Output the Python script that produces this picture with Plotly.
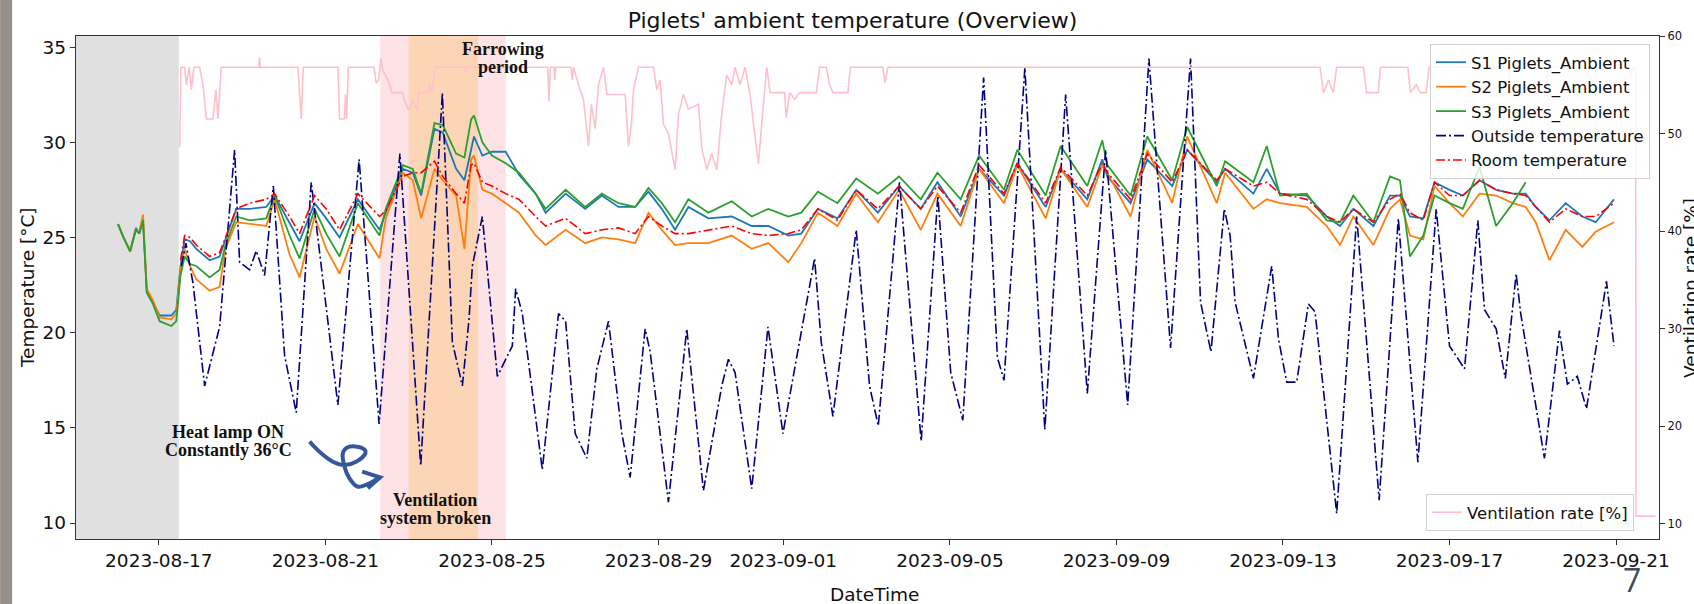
import pandas as pd
import plotly.graph_objects as go

# ---------------- data (x = days since 2023-08-17 00:00) ----------------
START = pd.Timestamp("2023-08-17")

piglet_day = [-0.98, -0.85, -0.69, -0.55, -0.47, -0.38, -0.29, -0.14, 0.02, 0.30, 0.42,
              0.52, 0.62, 0.75, 0.90, 1.22, 1.46, 1.60, 1.86, 2.18, 2.58, 2.78, 3.14,
              3.38, 3.74, 4.02, 4.34, 4.78, 5.30, 5.45, 5.86, 6.10, 6.30, 6.62, 6.82,
              7.14, 7.34, 7.50, 7.57, 7.77, 8.00, 8.33, 8.65, 9.05, 9.29, 9.77, 10.24,
              10.64, 11.04, 11.44, 11.76, 12.08, 12.40, 12.72, 13.20, 13.76, 14.24, 14.64,
              15.12, 15.43, 15.83, 16.30, 16.75, 17.27, 17.78, 18.30, 18.70, 19.26, 19.70,
              20.30, 20.62, 21.30, 21.66, 22.30, 22.66, 22.78, 23.34, 23.74, 24.34, 24.70,
              25.41, 25.61, 26.29, 26.61, 26.93, 27.57, 28.05, 28.37, 28.69, 29.17, 29.57,
              29.81, 30.05, 30.37, 30.64, 31.00, 31.32, 31.72, 32.12, 32.52, 32.83, 33.07,
              33.40, 33.79, 34.19, 34.51, 34.95]

s1_temp = [25.7, 25.0, 24.3, 25.5, 25.2, 25.9, 22.2, 21.6, 20.9, 20.9, 21.2,
           23.5, 24.9, 24.8, 24.4, 23.8, 24.0, 24.9, 26.5, 26.5, 26.6, 27.2, 25.8,
           24.8, 26.8, 26.0, 25.0, 27.0, 25.4, 26.3, 28.6, 28.4, 27.2, 30.7, 30.5,
           28.6, 28.0, 29.6, 30.3, 29.3, 29.5, 29.5, 28.3, 27.3, 26.3, 27.3, 26.5,
           27.2, 26.6, 26.6, 27.4, 26.5, 25.4, 26.6, 26.0, 26.1, 25.6, 25.6,
           25.1, 25.2, 26.5, 26.0, 27.5, 26.3, 27.7, 26.5, 27.9, 26.1, 28.6,
           27.2, 28.9, 26.6, 28.6, 27.0, 29.1, 28.2, 26.8, 29.1, 27.7, 29.6,
           27.9, 28.6, 27.3, 28.6, 27.3, 27.2, 26.1, 25.6, 26.5, 25.6, 27.2,
           27.2, 26.1, 26.0, 27.9, 27.5, 27.2, 28.0, 27.5, 27.3, 27.3, 26.6,
           25.9, 26.8, 26.1, 25.8, 27.0]

s2_temp = [25.7, 25.0, 24.3, 25.4, 25.3, 26.2, 22.3, 21.7, 20.8, 20.7, 21.0,
           23.3, 24.4, 23.5, 22.8, 22.2, 22.4, 24.4, 25.8, 25.7, 25.6, 27.0, 24.1,
           22.9, 26.1, 24.4, 23.1, 25.7, 23.9, 26.0, 28.4, 28.0, 26.0, 28.6, 28.0,
           27.2, 24.4, 29.1, 29.3, 27.5, 27.3, 26.8, 26.3, 25.1, 24.6, 25.4, 24.7,
           25.0, 24.9, 24.7, 26.3, 25.4, 24.6, 24.7, 24.7, 25.1, 24.4, 24.7,
           23.7, 24.7, 26.3, 25.6, 27.3, 25.8, 27.5, 25.4, 27.3, 25.6, 28.6,
           26.8, 28.8, 26.0, 28.6, 26.6, 28.8, 28.4, 26.1, 29.6, 26.8, 30.3,
           26.8, 28.4, 26.5, 27.0, 26.8, 26.6, 25.6, 24.6, 26.1, 24.6, 26.5,
           27.0, 25.1, 24.9, 27.7, 26.8, 26.1, 27.3, 27.2, 26.8, 26.6, 25.8,
           23.8, 25.4, 24.5, 25.3, 25.8]

s3_temp = [25.7, 25.0, 24.25, 25.4, 25.2, 25.9, 22.1, 21.5, 20.6, 20.35, 20.6,
           23.0, 24.0, 23.6, 23.5, 22.9, 23.3, 24.6, 26.1, 25.9, 26.0, 27.2, 25.1,
           23.9, 26.5, 25.2, 24.0, 26.8, 25.1, 26.5, 28.8, 28.6, 27.3, 31.0, 30.9,
           29.4, 29.2, 31.2, 31.4, 30.0, 29.3, 28.9, 28.4, 27.3, 26.5, 27.5, 26.6,
           27.3, 26.8, 26.6, 27.6, 26.8, 25.8, 27.0, 26.3, 26.9, 26.1, 26.5,
           26.1, 26.3, 27.4, 26.8, 28.1, 27.3, 28.2, 27.0, 28.4, 27.0, 29.3,
           27.5, 29.6, 27.2, 29.8, 27.7, 30.1, 28.8, 27.2, 30.3, 28.0, 30.8,
           27.7, 29.0, 27.9, 29.8, 27.2, 27.3, 25.9, 25.8, 27.2, 25.8, 28.2,
           28.0, 24.0, 25.1, 27.2, 26.8, 26.5, 28.7, 25.6, 26.8, 27.9, None,
           None, None, None, None, None]

room_temp = [None, None, None, None, None, None, None, None, None, None, None,
             23.8, 25.1, 25.0, 24.6, 24.0, 24.2, 25.0, 26.5, 26.8, 27.0, 27.3, 26.1,
             25.2, 27.2, 26.5, 25.4, 27.3, 26.1, 26.4, 28.2, 28.4, 28.4, 29.0, 28.2,
             27.3, 26.8, 28.8, 28.9, 27.9, 27.7, 27.3, 27.0, 26.1, 25.6, 26.0, 25.2,
             25.4, 25.5, 25.2, 26.1, 25.6, 25.2, 25.2, 25.4, 25.6, 25.2, 25.1,
             25.2, 25.4, 26.5, 25.9, 27.5, 26.5, 27.7, 26.5, 27.7, 26.3, 28.8,
             27.3, 28.9, 26.8, 28.7, 27.2, 28.9, 28.4, 27.0, 29.4, 27.9, 29.6,
             28.0, 28.6, 27.7, 27.9, 27.3, 27.0, 26.1, 25.8, 26.5, 25.8, 27.0,
             27.3, 26.3, 25.9, 27.9, 27.2, 27.2, 28.0, 27.5, 27.3, 27.2, 26.6,
             25.8, 26.5, 26.1, 26.1, 26.8]

outside_day = [0.54, 0.65, 0.82, 1.10, 1.46, 1.82, 1.94, 2.18, 2.34, 2.54, 2.75, 3.02,
               3.30, 3.66, 4.30, 4.81, 5.29, 5.79, 6.29, 6.81, 7.05, 7.29, 7.45, 7.53,
               7.77, 8.13, 8.49, 8.57, 8.73, 9.21, 9.60, 9.77, 10.00, 10.28, 10.52, 10.80,
               11.12, 11.32, 11.68, 11.80, 12.24, 12.68, 13.08, 13.52, 13.68, 13.84, 14.24,
               14.63, 14.99, 15.75, 15.91, 16.19, 16.75, 17.07, 17.28, 17.79, 18.31, 18.71,
               19.02, 19.31, 19.81, 20.14, 20.30, 20.80, 21.28, 21.78, 22.30, 22.74, 23.27,
               23.78, 24.30, 24.78, 25.02, 25.27, 25.59, 25.73, 25.85, 26.29, 26.73, 26.89,
               27.09, 27.33, 27.61, 27.77, 28.29, 28.77, 29.31, 29.77, 30.24, 30.68, 31.00,
               31.36, 31.68, 31.84, 32.12, 32.34, 32.60, 32.71, 33.28, 33.64, 33.83, 34.07,
               34.29, 34.77, 34.95]
outside_temp = [23.5, 24.7, 22.6, 17.2, 20.3, 29.6, 23.7, 23.3, 24.3, 23.0, 27.7, 18.8,
                15.8, 27.9, 16.2, 29.1, 15.2, 29.4, 13.0, 32.6, 19.5, 17.2, 20.7, 23.5,
                26.1, 17.7, 19.3, 22.3, 21.0, 12.8, 21.0, 20.6, 14.7, 13.4, 18.1, 20.6,
                14.7, 12.4, 20.2, 19.0, 11.1, 20.2, 11.7, 17.2, 18.6, 17.9, 11.8,
                20.3, 14.7, 23.9, 19.5, 15.6, 25.4, 17.2, 15.1, 27.9, 14.3, 27.2,
                17.9, 15.4, 33.4, 18.7, 17.5, 33.9, 14.9, 32.5, 16.8, 29.6, 16.2,
                34.4, 19.2, 34.4, 21.6, 19.0, 26.5, 25.1, 21.6, 17.6, 23.5, 19.7,
                17.4, 17.4, 21.5, 21.1, 10.5, 26.1, 11.2, 26.0, 13.2, 26.5, 19.3,
                18.1, 25.9, 21.2, 20.2, 17.6, 23.1, 21.0, 13.4, 20.1, 17.3, 17.7,
                16.0, 22.7, 19.3]

vent_day = [0.50, 0.53, 0.62, 0.66, 0.73, 0.78, 0.84, 0.98, 1.06, 1.14, 1.30, 1.37, 1.42,
            1.50, 2.40, 2.42, 2.44, 3.34, 3.42, 3.47, 4.30, 4.34, 4.46, 4.48, 4.51, 4.55,
            5.17, 5.22, 5.28, 5.33, 5.38, 5.50, 5.60, 5.85, 5.90, 6.00, 6.10, 6.20, 6.25,
            6.45, 6.50, 6.55, 6.65, 7.35, 7.37, 7.39, 9.34, 9.37, 9.40, 9.49, 9.51, 9.53,
            9.90, 9.93, 9.96, 10.08, 10.20, 10.32, 10.39, 10.48, 10.56, 10.68, 10.76,
            11.20, 11.28, 11.35, 11.40, 11.52, 11.88, 11.96, 12.04, 12.12, 12.24, 12.40,
            12.48, 12.60, 12.72, 12.96, 13.04, 13.16, 13.28, 13.40, 13.52, 13.64, 13.76,
            13.84, 13.96, 14.08, 14.20, 14.32, 14.40, 14.48, 14.60, 14.68, 15.03, 15.07,
            15.15, 15.19, 15.27, 15.39, 15.79, 15.87, 16.03, 16.11, 16.19, 16.55, 16.61,
            17.39, 17.44, 17.51, 27.89, 27.97, 28.09, 28.21, 28.29, 28.93, 29.01, 29.29,
            29.34, 30.00, 30.06, 30.20, 30.30, 30.44, 30.51, 32.43, 32.47, 32.91, 32.99,
            33.07, 33.31, 33.35, 34.27, 34.31, 34.35, 35.31, 35.35, 35.41, 35.47, 35.48,
            35.95]
vent_rate = [48.6, 56.8, 56.8, 55.0, 56.8, 54.5, 56.8, 56.8, 55.0, 51.5, 51.5, 54.5, 51.5,
             56.8, 56.8, 57.8, 56.8, 56.8, 51.5, 56.8, 56.8, 51.5, 51.5, 54.0, 51.5, 56.8,
             56.8, 55.2, 55.5, 57.7, 56.5, 55.5, 54.2, 54.2, 53.4, 52.4, 53.4, 52.4, 54.2,
             54.2, 55.0, 54.2, 56.8, 56.8, 56.2, 56.8, 56.8, 53.3, 56.8, 56.8, 55.5, 56.8,
             56.8, 55.5, 56.8, 55.0, 53.5, 48.7, 53.0, 50.5, 55.0, 56.8, 54.0,
             54.0, 48.7, 51.0, 54.5, 56.8, 56.8, 54.5, 55.5, 51.0, 50.0, 46.3,
             52.0, 54.0, 52.5, 53.0, 48.5, 46.3, 48.0, 46.3, 52.0, 56.0, 55.0,
             56.8, 55.0, 56.8, 54.0, 50.0, 46.9, 51.0, 56.8, 54.2, 54.2, 51.6,
             54.2, 54.0, 53.5, 54.2, 54.2, 56.8, 56.8, 55.0, 54.2, 54.2, 56.8,
             56.8, 55.2, 56.8, 56.8, 54.2, 55.5, 54.2, 56.8, 56.8, 54.2, 54.2,
             56.8, 56.8, 54.2, 55.0, 54.2, 54.2, 56.8, 56.8, 54.2, 54.2, 55.5,
             54.2, 54.2, 56.8, 56.8, 55.8, 56.8, 56.8, 55.8, 56.8, 56.8, 10.8,
             10.8]

x_ticks = ["2023-08-17", "2023-08-21", "2023-08-25", "2023-08-29", "2023-09-01",
           "2023-09-05", "2023-09-09", "2023-09-13", "2023-09-17", "2023-09-21"]

# event periods
heat_lamp_end = "2023-08-17 11:30"
vent_broken = ("2023-08-22 07:40", "2023-08-25 08:00")
farrowing = ("2023-08-23 00:00", "2023-08-24 16:00")


def to_time(days):
    return [START + pd.Timedelta(days=d) for d in days]


# ---------------- layout geometry (pixels) ----------------
W, H = 1694, 604
L, R, T, B = 76, 1662, 36, 539


def px(x):
    return (x - L) / (R - L)


def py(y):
    return (B - y) / (B - T)


fig = go.Figure()

line_specs = [
    ("S1 Piglets_Ambient", s1_temp, "#1f77b4"),
    ("S2 Piglets_Ambient", s2_temp, "#ff7f0e"),
    ("S3 Piglets_Ambient", s3_temp, "#2ca02c"),
]
for name, vals, col in line_specs:
    fig.add_trace(go.Scatter(x=to_time(piglet_day), y=vals, name=name, mode="lines",
                             line=dict(color=col, width=1.8), connectgaps=False))

fig.add_trace(go.Scatter(x=to_time(outside_day), y=outside_temp, name="Outside temperature",
                         mode="lines",
                         line=dict(color="#000080", width=1.6, dash="10px,3px,2px,3px")))
fig.add_trace(go.Scatter(x=to_time(piglet_day), y=room_temp, name="Room temperature",
                         mode="lines",
                         line=dict(color="#ff0000", width=1.6, dash="9px,3px,2px,3px")))
fig.add_trace(go.Scatter(x=to_time(vent_day), y=vent_rate, name="Ventilation rate [%]",
                         mode="lines", yaxis="y2", legend="legend2",
                         line=dict(color="#ffc0cb", width=1.6)))

shapes = [
    dict(type="rect", xref="x", yref="paper", x0="2023-08-14", x1=heat_lamp_end,
         y0=0, y1=1, fillcolor="#e0e0e0", line_width=0, layer="below"),
    dict(type="rect", xref="x", yref="paper", x0=vent_broken[0], x1=vent_broken[1],
         y0=0, y1=1, fillcolor="#fde3e6", line_width=0, layer="below"),
    dict(type="rect", xref="x", yref="paper", x0=farrowing[0], x1=farrowing[1],
         y0=0, y1=1, fillcolor="#fcd5b6", line_width=0, layer="below"),
    # slide edge strip
    dict(type="rect", xref="paper", yref="paper", x0=px(0), x1=px(12), y0=py(H), y1=py(0),
         fillcolor="#968f89", line_width=0, layer="above"),
]


def smooth_path(pts):
    P = [(px(x), py(y)) for x, y in pts]
    d = f"M{P[0][0]:.5f},{P[0][1]:.5f}"
    for i in range(len(P) - 1):
        p0 = P[i - 1] if i > 0 else P[i]
        p1, p2 = P[i], P[i + 1]
        p3 = P[i + 2] if i + 2 < len(P) else P[i + 1]
        c1 = (p1[0] + (p2[0] - p0[0]) / 6, p1[1] + (p2[1] - p0[1]) / 6)
        c2 = (p2[0] - (p3[0] - p1[0]) / 6, p2[1] - (p3[1] - p1[1]) / 6)
        d += (f" C{c1[0]:.5f},{c1[1]:.5f} {c2[0]:.5f},{c2[1]:.5f}"
              f" {p2[0]:.5f},{p2[1]:.5f}")
    return d


arrow_pts = [(310, 441.7), (321.7, 453.3), (333.3, 461.7), (345, 465), (356.7, 461.7),
             (366, 453.3), (361.7, 447.7), (350, 446.7), (343.3, 453.3), (345, 466.7),
             (350, 478.3), (358.3, 486.7), (370, 483.3), (380.7, 477.3)]
head = [(362.7, 471.7), (380.7, 477.3), (368.3, 488.3)]
pen = "#36589b"
shapes.append(dict(type="path", xref="paper", yref="paper", path=smooth_path(arrow_pts),
                   line=dict(color=pen, width=4), layer="above"))
shapes.append(dict(type="path", xref="paper", yref="paper",
                   path="M" + " L".join(f"{px(x):.5f},{py(y):.5f}" for x, y in head),
                   line=dict(color=pen, width=4), layer="above"))

serif = dict(family="Liberation Serif", size=18, color="#111111")
notes = [("<b>Heat lamp ON</b>", 228.5, 432), ("<b>Constantly 36°C</b>", 228.5, 450),
         ("<b>Ventilation</b>", 436, 500), ("<b>system broken</b>", 436, 518),
         ("<b>Farrowing</b>", 504, 49), ("<b>period</b>", 504, 67)]
annotations = [dict(text=t, x=px(x), y=py(y), xref="paper", yref="paper", showarrow=False,
                    xanchor="center", yanchor="middle", font=serif) for t, x, y in notes]
annotations += [
    dict(text="DateTime", x=px(877), y=py(594), xref="paper", yref="paper", showarrow=False,
         xanchor="center", yanchor="middle", font=dict(size=18.5, color="#111")),
    dict(text="Temperature [°C]", x=px(27), y=py(288), xref="paper", yref="paper",
         showarrow=False, textangle=-90, xanchor="center", yanchor="middle",
         font=dict(size=18.5, color="#111")),
    dict(text="Ventilation rate [%]", x=px(1693), y=py(288), xref="paper", yref="paper",
         showarrow=False, textangle=-90, xanchor="center", yanchor="middle",
         font=dict(size=18.5, color="#111")),
    dict(text="7", x=px(1635), y=py(602), xref="paper", yref="paper", showarrow=False,
         xanchor="center", yanchor="bottom", borderpad=0,
         font=dict(family="Open Sans", size=32, color="#3d4a5b")),
]

axis_common = dict(showgrid=False, zeroline=False, showline=True, linecolor="#333333",
                   linewidth=1.3, ticks="outside", ticklen=5, tickcolor="#333333",
                   tickwidth=1.2)

fig.update_layout(
    width=W, height=H,
    margin=dict(l=L, r=W - R, t=T, b=H - B, pad=0),
    paper_bgcolor="white", plot_bgcolor="white",
    font=dict(family="DejaVu Sans", color="#111111"),
    title=dict(text="Piglets' ambient temperature (Overview)", x=px(854), xref="paper",
               y=1 - 20 / H, yref="container", xanchor="center", yanchor="middle",
               font=dict(size=22, color="#111")),
    xaxis=dict(axis_common, type="date", mirror=True,
               range=["2023-08-15 00:15", "2023-09-22 00:45"],
               tickvals=x_ticks, ticktext=x_ticks, tickfont=dict(size=18.5, color="#111")),
    yaxis=dict(axis_common, range=[9.16, 35.58], tickvals=[10, 15, 20, 25, 30, 35],
               tickfont=dict(size=18.5, color="#111")),
    yaxis2=dict(axis_common, overlaying="y", side="right", anchor="x",
                range=[8.46, 60.0], tickvals=[10, 20, 30, 40, 50, 60],
                tickfont=dict(size=11.5, color="#111")),
    legend=dict(x=px(1653), xanchor="right", y=py(44), yanchor="top",
                bgcolor="rgba(255,255,255,0.8)", bordercolor="#d0d0d0", borderwidth=1,
                font=dict(size=16.5, color="#111"), traceorder="normal"),
    legend2=dict(x=px(1637), xanchor="right", y=py(531), yanchor="bottom",
                 bgcolor="rgba(255,255,255,0.8)", bordercolor="#d0d0d0", borderwidth=1,
                 font=dict(size=16.5, color="#111")),
    shapes=shapes,
    annotations=annotations,
    showlegend=True,
)

fig.write_html("out.html")
